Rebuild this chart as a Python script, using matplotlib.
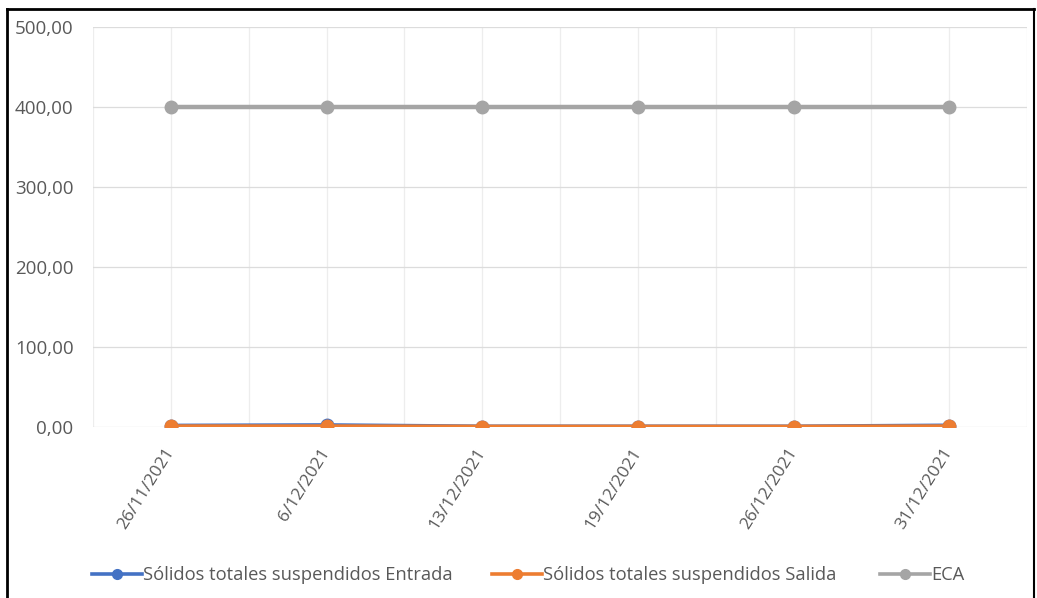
import numpy as np
import matplotlib.pyplot as plt
from matplotlib.lines import Line2D

plt.rcParams['font.family'] = ['Open Sans', 'DejaVu Sans']

fechas = ['26/11/2021', '6/12/2021', '13/12/2021', '19/12/2021', '26/12/2021', '31/12/2021']
sst_entrada = [1.6, 2.2, 0.6, 0.6, 0.6, 1.8]
sst_salida = [0.8, 0.8, 0.4, 0.4, 0.4, 0.8]
eca = [400.0, 400.0, 400.0, 400.0, 400.0, 400.0]
y_ticks = [0, 100, 200, 300, 400, 500]

W, H = 1037, 598
fig = plt.figure(figsize=(W / 100, H / 100), dpi=100)
ax = fig.add_axes([93 / W, 1 - 427 / H, (1027 - 93) / W, (427 - 27) / H])

x = np.arange(len(fechas))
txt = '#595959'

# light grid, both at categories and between them
for gx in np.arange(-0.5, len(fechas), 0.5):
    ax.axvline(gx, color='#ededed', lw=0.9, zorder=0)
for gy in y_ticks:
    ax.axhline(gy, color='#dcdcdc', lw=0.9, zorder=0)

l1, = ax.plot(x, sst_entrada, color='#4472c4', lw=3.0, marker='o', ms=9,
              label='Sólidos totales suspendidos Entrada', zorder=3)
l2, = ax.plot(x, sst_salida, color='#ed7d31', lw=3.0, marker='o', ms=9,
              label='Sólidos totales suspendidos Salida', zorder=4)
l3, = ax.plot(x, eca, color='#a5a5a5', lw=3.2, marker='o', ms=9,
              label='ECA', zorder=3)

ax.set_xlim(-0.5, len(fechas) - 0.5)
ax.set_ylim(0, 500)
ax.set_yticks(y_ticks)
ax.set_yticklabels([f'{v:.2f}'.replace('.', ',') for v in y_ticks],
                   color=txt, fontsize=13.5)
ax.set_xticks(x)
ax.set_xticklabels(fechas, rotation=58, ha='right', va='center',
                   rotation_mode='anchor', color=txt, fontsize=12.5)
ax.tick_params(axis='y', length=0, pad=14)
ax.tick_params(axis='x', length=0, pad=16)
for s in ax.spines.values():
    s.set_visible(False)

# one legend entry per slot, laid out like the spreadsheet legend
for line, x0 in [(l1, 92), (l2, 492), (l3, 880)]:
    h = Line2D([], [], color=line.get_color(), lw=2.6, marker='o', ms=7)
    fig.legend([h], [line.get_label()], loc='center left',
               bbox_to_anchor=(x0 / W, 1 - 575 / H), frameon=False,
               fontsize=13.2, handlelength=2.75, handletextpad=0.05,
               borderpad=0, borderaxespad=0, labelcolor=txt)

# outer frame (left, top, right)
fig.add_artist(Line2D([7 / W, 7 / W], [0, 1 - 9 / H], color='black', lw=2))
fig.add_artist(Line2D([7 / W, 1034 / W], [1 - 9 / H, 1 - 9 / H], color='black', lw=2))
fig.add_artist(Line2D([1034 / W, 1034 / W], [0, 1 - 9 / H], color='black', lw=1.5))

fig.savefig('out.png', dpi=100)
